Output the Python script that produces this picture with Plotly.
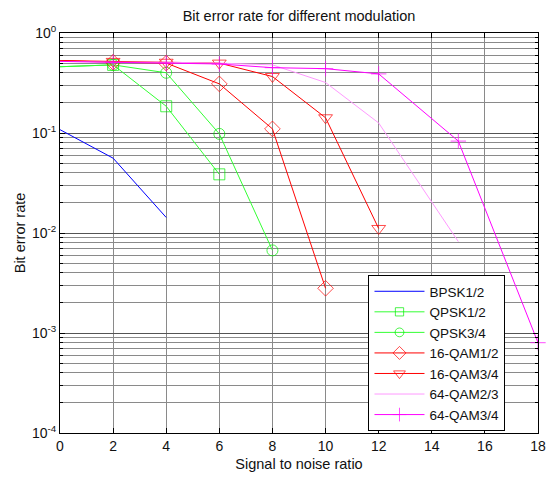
import plotly.graph_objects as go

# ---- data ----
bpsk_x = [0, 2, 4]
bpsk_y = [0.108, 0.056, 0.0143]

qpsk12_x = [0, 2, 4, 6]
qpsk12_y = [0.46, 0.48, 0.185, 0.0386]

qpsk34_x = [0, 2, 4, 6, 8]
qpsk34_y = [0.46, 0.48, 0.40, 0.098, 0.0067]

qam16_12_x = [0, 2, 4, 6, 8, 10]
qam16_12_y = [0.53, 0.51, 0.50, 0.31, 0.11, 0.0028]

qam16_34_x = [0, 2, 4, 6, 8, 10, 12]
qam16_34_y = [0.53, 0.52, 0.51, 0.50, 0.367, 0.142, 0.0111]

qam64_23_x = [0, 2, 4, 6, 8, 10, 12, 15]
qam64_23_y = [0.52, 0.51, 0.51, 0.50, 0.48, 0.32, 0.126, 0.0082]

qam64_34_x = [0, 2, 4, 6, 8, 10, 12, 15, 18]
qam64_34_y = [0.52, 0.51, 0.50, 0.49, 0.45, 0.44, 0.39, 0.083, 0.0008]

x_ticks = [0, 2, 4, 6, 8, 10, 12, 14, 16, 18]
y_major = [1e-4, 1e-3, 1e-2, 1e-1, 1e0]
y_major_text = ["10<sup>-4</sup>", "10<sup>-3</sup>", "10<sup>-2</sup>", "10<sup>-1</sup>", "10<sup>0</sup>"]
y_minor = [m * d for d in [1e-4, 1e-3, 1e-2, 1e-1] for m in range(2, 10)]

FONT = "Liberation Sans, Arial, sans-serif"


def msizes(xs, size):
    # marker hidden at the axis edge (x=0), as in the reference
    return [0 if x == 0 else size for x in xs]


fig = go.Figure()

fig.add_trace(go.Scatter(x=bpsk_x, y=bpsk_y, name="BPSK1/2", mode="lines",
                         line=dict(color="#0000FF", width=1)))
fig.add_trace(go.Scatter(x=qpsk12_x, y=qpsk12_y, name="QPSK1/2", mode="lines+markers",
                         line=dict(color="#33FF33", width=1),
                         marker=dict(symbol="square-open", size=msizes(qpsk12_x, 11),
                                     color="#00EE00", line=dict(width=1))))
fig.add_trace(go.Scatter(x=qpsk34_x, y=qpsk34_y, name="QPSK3/4", mode="lines+markers",
                         line=dict(color="#33FF33", width=1),
                         marker=dict(symbol="circle-open", size=msizes(qpsk34_x, 11),
                                     color="#00EE00", line=dict(width=1))))
fig.add_trace(go.Scatter(x=qam16_12_x, y=qam16_12_y, name="16-QAM1/2", mode="lines+markers",
                         line=dict(color="#FF0000", width=1),
                         marker=dict(symbol="diamond-open", size=msizes(qam16_12_x, 12),
                                     color="#FF0000", line=dict(width=1))))
fig.add_trace(go.Scatter(x=qam16_34_x, y=qam16_34_y, name="16-QAM3/4", mode="lines+markers",
                         line=dict(color="#FF0000", width=1),
                         marker=dict(symbol="triangle-down-open", size=msizes(qam16_34_x, 12),
                                     color="#FF0000", line=dict(width=1))))
fig.add_trace(go.Scatter(x=qam64_23_x, y=qam64_23_y, name="64-QAM2/3", mode="lines",
                         line=dict(color="#FF99FF", width=1)))
fig.add_trace(go.Scatter(x=qam64_34_x, y=qam64_34_y, name="64-QAM3/4", mode="lines+markers",
                         cliponaxis=False,
                         line=dict(color="#FF00FF", width=1),
                         marker=dict(symbol="cross-thin-open", size=msizes(qam64_34_x, 11),
                                     color="#FF00FF", line=dict(width=1, color="#FF00FF"))))

fig.update_layout(
    width=554, height=478,
    margin=dict(l=60, r=8, t=33, b=43),
    paper_bgcolor="white", plot_bgcolor="white",
    font=dict(family=FONT, size=13, color="#111111"),
    title=dict(text="Bit error rate for different modulation", x=0.5, xref="paper",
               xanchor="center", y=1 - 16 / 478, yanchor="middle",
               font=dict(family=FONT, size=14.5, color="#111111")),
    showlegend=True,
    legend=dict(x=0.932, y=0.005, xanchor="right", yanchor="bottom",
                bgcolor="white", bordercolor="black", borderwidth=1,
                font=dict(family=FONT, size=13.5, color="#111111"),
                tracegroupgap=0, itemwidth=50),
)

fig.update_xaxes(
    range=[0, 18], tickvals=x_ticks, ticktext=[str(v) for v in x_ticks],
    showline=True, linecolor="black", linewidth=1, mirror="allticks",
    ticks="inside", ticklen=5, tickcolor="black",
    showgrid=True, gridcolor="#8a8a8a", gridwidth=1,
    zeroline=False,
    title=dict(text="Signal to noise ratio", standoff=6, font=dict(family=FONT, size=14.5)),
    tickfont=dict(family=FONT, size=14),
)

fig.update_yaxes(
    type="log", range=[-4, 0], tickvals=y_major, ticktext=y_major_text,
    showline=True, linecolor="black", linewidth=1, mirror="allticks",
    ticks="inside", ticklen=5, tickcolor="black",
    showgrid=True, gridcolor="#555555", gridwidth=1,
    zeroline=False,
    minor=dict(tickmode="array", tickvals=y_minor, ticks="inside", ticklen=3,
               tickcolor="black", showgrid=True, gridcolor="#8a8a8a", gridwidth=1),
    title=dict(text="Bit error rate", standoff=2, font=dict(family=FONT, size=14.5)),
    tickfont=dict(family=FONT, size=14),
)

fig.write_html("out.html")
